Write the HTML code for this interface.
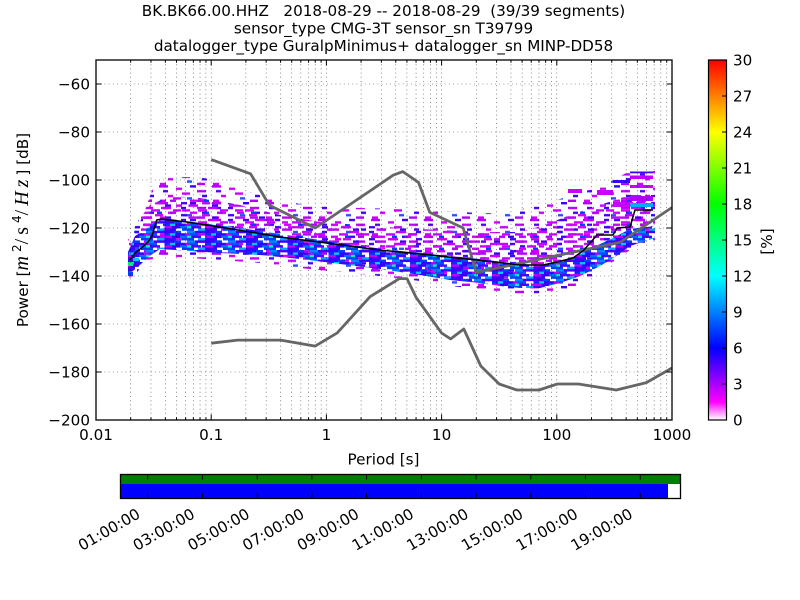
<!DOCTYPE html>
<html><head><meta charset="utf-8"><style>
html,body{margin:0;padding:0;background:#fff;}
svg{display:block;}
text{font-family:"DejaVu Sans","Liberation Sans",sans-serif;fill:#000;}
</style></head><body>
<svg width="800" height="600" viewBox="0 0 800 600" xmlns="http://www.w3.org/2000/svg">
<defs>
<clipPath id="plot"><rect x="96" y="60" width="576" height="360"/></clipPath>
<pattern id="ps" patternUnits="userSpaceOnUse" x="0" y="0.4" width="53" height="16.8">
<rect x="0" y="0" width="9" height="2.4" fill="#b400ff"/><rect x="31" y="0" width="6" height="2.4" fill="#3c00ff"/>
<rect x="17" y="2.4" width="6" height="2.4" fill="#cc00ff"/>
<rect x="4" y="4.8" width="5" height="2.4" fill="#5000ff"/><rect x="38" y="4.8" width="9" height="2.4" fill="#c000ff"/>
<rect x="23" y="7.2" width="8" height="2.4" fill="#cc00ff"/>
<rect x="9" y="9.6" width="5" height="2.4" fill="#c800ff"/><rect x="43" y="9.6" width="5" height="2.4" fill="#3c00ff"/>
<rect x="28" y="12" width="5" height="2.4" fill="#2850ff"/>
<rect x="1" y="14.4" width="6" height="2.4" fill="#cc00ff"/><rect x="38" y="14.4" width="8" height="2.4" fill="#b400ff"/>
</pattern>
<pattern id="pm" patternUnits="userSpaceOnUse" x="0" y="0.4" width="47" height="12">
<rect x="0" y="0" width="10" height="2.4" fill="#c000ff"/><rect x="24" y="0" width="6" height="2.4" fill="#3c00ff"/>
<rect x="20" y="2.4" width="10" height="2.4" fill="#cc00ff"/><rect x="40" y="2.4" width="5" height="2.4" fill="#4000ff"/>
<rect x="10" y="4.8" width="9" height="2.4" fill="#c800ff"/><rect x="32" y="4.8" width="8" height="2.4" fill="#c000ff"/>
<rect x="2" y="7.2" width="7" height="2.4" fill="#cc00ff"/><rect x="16" y="7.2" width="5" height="2.4" fill="#0040ff"/><rect x="29" y="7.2" width="6" height="2.4" fill="#b400ff"/>
<rect x="14" y="9.6" width="8" height="2.4" fill="#c800ff"/><rect x="40" y="9.6" width="6" height="2.4" fill="#4000ff"/>
</pattern>
<pattern id="pc" patternUnits="userSpaceOnUse" x="0" y="0.4" width="41" height="9.6">
<rect x="0" y="0" width="10" height="2.4" fill="#3c00ff"/><rect x="10" y="0" width="7" height="2.4" fill="#0040ff"/><rect x="23" y="0" width="8" height="2.4" fill="#0088ff"/><rect x="31" y="0" width="10" height="2.4" fill="#4600ff"/>
<rect x="0" y="2.4" width="6" height="2.4" fill="#0030ff"/><rect x="6" y="2.4" width="5" height="2.4" fill="#00c8ff"/><rect x="11" y="2.4" width="10" height="2.4" fill="#3c00ff"/><rect x="21" y="2.4" width="5" height="2.4" fill="#b400ff"/><rect x="26" y="2.4" width="8" height="2.4" fill="#0050ff"/>
<rect x="0" y="4.8" width="8" height="2.4" fill="#c000ff"/><rect x="8" y="4.8" width="8" height="2.4" fill="#3200ff"/><rect x="16" y="4.8" width="7" height="2.4" fill="#0070ff"/><rect x="23" y="4.8" width="4" height="2.4" fill="#00f0c0"/><rect x="27" y="4.8" width="10" height="2.4" fill="#5000ff"/>
<rect x="0" y="7.2" width="12" height="2.4" fill="#4000ff"/><rect x="18" y="7.2" width="12" height="2.4" fill="#0040ff"/><rect x="34" y="7.2" width="7" height="2.4" fill="#00a8ff"/>
</pattern>
<linearGradient id="cb" x1="0" y1="1" x2="0" y2="0">
<stop offset="0" stop-color="#ffffff"/><stop offset="0.05" stop-color="#ff00ff"/><stop offset="0.2" stop-color="#0000ff"/><stop offset="0.4" stop-color="#00ffff"/><stop offset="0.6" stop-color="#00ff00"/><stop offset="0.8" stop-color="#ffff00"/><stop offset="1" stop-color="#ff0000"/>
</linearGradient>
</defs>
<rect width="800" height="600" fill="#fff"/>

<!-- Title -->
<text x="383.5" y="16" text-anchor="middle" font-size="15.2" style="white-space:pre">BK.BK66.00.HHZ   2018-08-29 -- 2018-08-29  (39/39 segments)</text>
<text x="383.5" y="33.5" text-anchor="middle" font-size="15.2">sensor_type CMG-3T sensor_sn T39799</text>
<text x="383.5" y="51" text-anchor="middle" font-size="15.2">datalogger_type GuralpMinimus+ datalogger_sn MINP-DD58</text>

<!-- Heatmap -->
<g clip-path="url(#plot)">
<polygon fill="url(#ps)" points="128,240 133,232 140,222 147,205 152,190 156,180 160,177 200,177 215,181 230,186 250,192 270,198 300,204 330,207 360,208 400,209 440,211 480,213 510,213 525,208 545,203 560,199 575,194 596,188 613,180 630,171 655,171 655,240 630,250 613,262 600,272 590,280 575,286 560,291 540,294 520,294 500,292 480,289 450,286 420,281 380,276 340,272 300,268 260,263 220,260 190,258 160,256 150,260 140,268 135,276 128,278"/>
<polygon fill="url(#pm)" points="135,225 150,205 170,196 200,198 240,205 280,215 320,222 360,225 400,228 440,230 480,232 520,232 545,225 570,215 600,205 630,195 655,195 655,226 630,229 615,237 600,244 580,254 560,261 540,265 510,263 480,259 440,255 400,251 360,246 320,240 280,234 240,228 200,223 170,219 155,222 145,230 135,236"/>
<polygon fill="url(#pc)" points="128,252 135,236 145,230 155,222 170,219 200,223 240,228 280,234 320,240 360,246 400,251 440,255 480,259 510,263 540,265 560,261 580,254 600,244 615,237 630,229 655,226 655,238 630,246 615,257 600,266 580,276 560,283 540,288 520,288 500,286 480,283 450,280 420,275 380,269 340,264 300,259 260,255 220,253 190,251 160,249 148,257 140,265 133,271 128,274"/>
<rect x="630" y="171.5" width="23" height="1.8" fill="#3c00ff"/>
<rect x="630" y="175.5" width="23" height="3.5" fill="#c000ff"/>
<rect x="613" y="180" width="17" height="3" fill="#4000ff"/>
<rect x="630" y="185" width="23" height="3" fill="#c800ff"/>
<rect x="597" y="190" width="16" height="5" fill="#cc00ff"/>
<rect x="568" y="189" width="14" height="4" fill="#cc00ff"/>
<rect x="630" y="196" width="23" height="5" fill="#b400ff"/>
<rect x="630" y="203" width="23" height="4" fill="#00a8ff"/>
<rect x="613" y="202" width="17" height="5" fill="#cc00ff"/>
<rect x="128" y="262" width="5" height="4" fill="#00e890"/>
<rect x="133" y="258" width="6" height="3" fill="#00c8ff"/>
<rect x="128" y="272" width="5" height="4" fill="#0040ff"/>
</g>

<!-- Grid -->
<g stroke="#000" stroke-width="0.6" stroke-dasharray="1,3.2" fill="none" opacity="0.75">
<path d="M96,84H672M96,132H672M96,180H672M96,228H672M96,276H672M96,324H672M96,372H672"/>
<path d="M130.68,60V420M150.96,60V420M165.36,60V420M176.52,60V420M185.64,60V420M193.36,60V420M200.04,60V420M205.93,60V420M211.2,60V420M245.88,60V420M266.16,60V420M280.56,60V420M291.72,60V420M300.84,60V420M308.56,60V420M315.24,60V420M321.13,60V420M326.4,60V420M361.08,60V420M381.36,60V420M395.76,60V420M406.92,60V420M416.04,60V420M423.76,60V420M430.44,60V420M436.33,60V420M441.6,60V420M476.28,60V420M496.56,60V420M510.96,60V420M522.12,60V420M531.24,60V420M538.96,60V420M545.64,60V420M551.53,60V420M556.8,60V420M591.48,60V420M611.76,60V420M626.16,60V420M637.32,60V420M646.44,60V420M654.16,60V420M660.84,60V420M666.73,60V420"/>
</g>

<!-- Noise models -->
<g clip-path="url(#plot)" fill="none" stroke-linejoin="round">
<polyline stroke="#666" stroke-width="2.8" points="211.2,159.6 250.6,173.8 269.4,205.2 315.2,228 393.2,175.2 402.8,171.6 418.5,182.4 429.8,212.4 463.2,228 476.2,272.4 620,242.4 672,207.5"/>
<polyline stroke="#666" stroke-width="2.8" points="211.2,343.2 237.7,340.1 280.6,340.1 315.2,346.1 337.2,332.9 370.2,296.6 399.4,278.6 407,278.6 416.2,297.6 441.6,333.1 450.7,338.9 463.8,329 480.8,366 499.2,384 516.9,390 539,390 557.3,384 578.4,384 616.2,390 646.4,382.6 672,368"/>
<polyline stroke="#000" stroke-width="1.5" points="130,260 135,253 143,246.7 148.3,241.7 152,236 156.7,220 161.7,219 187,222 220,227 280,237 330,243.5 380,250 430,255 476.7,260 520,265 543,265 557,262 573,258 580,253 584,250 597,235 613,235 617,228 630,227 635,210 653,210"/>
</g>

<!-- Ticks -->
<g stroke="#000" stroke-width="1" fill="none">
<path d="M96,84h5.6M96,132h5.6M96,180h5.6M96,228h5.6M96,276h5.6M96,324h5.6M96,372h5.6M672,84h-5.6M672,132h-5.6M672,180h-5.6M672,228h-5.6M672,276h-5.6M672,324h-5.6M672,372h-5.6"/>
<path d="M211.2,420v-5.6M326.4,420v-5.6M441.6,420v-5.6M556.8,420v-5.6M211.2,60v5.6M326.4,60v5.6M441.6,60v5.6M556.8,60v5.6"/>
<path d="M130.68,420v-2.8M150.96,420v-2.8M165.36,420v-2.8M176.52,420v-2.8M185.64,420v-2.8M193.36,420v-2.8M200.04,420v-2.8M205.93,420v-2.8M245.88,420v-2.8M266.16,420v-2.8M280.56,420v-2.8M291.72,420v-2.8M300.84,420v-2.8M308.56,420v-2.8M315.24,420v-2.8M321.13,420v-2.8M361.08,420v-2.8M381.36,420v-2.8M395.76,420v-2.8M406.92,420v-2.8M416.04,420v-2.8M423.76,420v-2.8M430.44,420v-2.8M436.33,420v-2.8M476.28,420v-2.8M496.56,420v-2.8M510.96,420v-2.8M522.12,420v-2.8M531.24,420v-2.8M538.96,420v-2.8M545.64,420v-2.8M551.53,420v-2.8M591.48,420v-2.8M611.76,420v-2.8M626.16,420v-2.8M637.32,420v-2.8M646.44,420v-2.8M654.16,420v-2.8M660.84,420v-2.8M666.73,420v-2.8"/>
<path d="M130.68,60v2.8M150.96,60v2.8M165.36,60v2.8M176.52,60v2.8M185.64,60v2.8M193.36,60v2.8M200.04,60v2.8M205.93,60v2.8M245.88,60v2.8M266.16,60v2.8M280.56,60v2.8M291.72,60v2.8M300.84,60v2.8M308.56,60v2.8M315.24,60v2.8M321.13,60v2.8M361.08,60v2.8M381.36,60v2.8M395.76,60v2.8M406.92,60v2.8M416.04,60v2.8M423.76,60v2.8M430.44,60v2.8M436.33,60v2.8M476.28,60v2.8M496.56,60v2.8M510.96,60v2.8M522.12,60v2.8M531.24,60v2.8M538.96,60v2.8M545.64,60v2.8M551.53,60v2.8M591.48,60v2.8M611.76,60v2.8M626.16,60v2.8M637.32,60v2.8M646.44,60v2.8M654.16,60v2.8M660.84,60v2.8M666.73,60v2.8"/>
</g>
<rect x="96" y="60" width="576" height="360" fill="none" stroke="#000" stroke-width="1.3"/>

<!-- Y tick labels -->
<g font-size="15.2" text-anchor="end">
<text x="90" y="89.3">−60</text>
<text x="90" y="137.3">−80</text>
<text x="90" y="185.3">−100</text>
<text x="90" y="233.3">−120</text>
<text x="90" y="281.3">−140</text>
<text x="90" y="329.3">−160</text>
<text x="90" y="377.3">−180</text>
<text x="90" y="425.3">−200</text>
</g>
<!-- X tick labels -->
<g font-size="15.2" text-anchor="middle">
<text x="96" y="440">0.01</text>
<text x="211.2" y="440">0.1</text>
<text x="326.4" y="440">1</text>
<text x="441.6" y="440">10</text>
<text x="556.8" y="440">100</text>
<text x="672" y="440">1000</text>
</g>
<text x="383.5" y="464.5" font-size="15.2" text-anchor="middle">Period [s]</text>
<text transform="translate(28,230) rotate(-90)" font-size="15.2" text-anchor="middle">Power [<tspan font-family="Liberation Serif,DejaVu Serif,serif" font-style="italic" font-size="20" letter-spacing="4">m</tspan><tspan font-size="12" dy="-7">2</tspan><tspan dy="7" font-family="Liberation Serif,DejaVu Serif,serif" font-size="20" letter-spacing="4">/</tspan><tspan font-family="Liberation Serif,DejaVu Serif,serif" font-size="20" letter-spacing="4">s</tspan><tspan font-size="12" dy="-7">4</tspan><tspan dy="7" font-family="Liberation Serif,DejaVu Serif,serif" font-size="20" letter-spacing="4">/</tspan><tspan font-family="Liberation Serif,DejaVu Serif,serif" font-style="italic" font-size="20" letter-spacing="4">Hz</tspan>] [dB]</text>

<!-- Colorbar -->
<rect x="708.5" y="60" width="18" height="360" fill="url(#cb)" stroke="#000" stroke-width="1.2"/>
<g stroke="#000" stroke-width="1">
<path d="M726.5,384h-4.5M726.5,348h-4.5M726.5,312h-4.5M726.5,276h-4.5M726.5,240h-4.5M726.5,204h-4.5M726.5,168h-4.5M726.5,132h-4.5M726.5,96h-4.5"/>
</g>
<g font-size="15.2">
<text x="733" y="425.3">0</text>
<text x="733" y="389.3">3</text>
<text x="733" y="353.3">6</text>
<text x="733" y="317.3">9</text>
<text x="733" y="281.3">12</text>
<text x="733" y="245.3">15</text>
<text x="733" y="209.3">18</text>
<text x="733" y="173.3">21</text>
<text x="733" y="137.3">24</text>
<text x="733" y="101.3">27</text>
<text x="733" y="65.3">30</text>
</g>
<text transform="translate(772,241.5) rotate(-90)" font-size="15.2" text-anchor="middle">[%]</text>

<!-- Timeline bar -->
<rect x="120.5" y="474.5" width="560" height="9.5" fill="#008000"/>
<rect x="120.5" y="484" width="547.5" height="14.5" fill="#0000ff"/>
<rect x="668" y="484" width="12.5" height="14.5" fill="#ffffff"/>
<rect x="120.5" y="474.5" width="560" height="24" fill="none" stroke="#000" stroke-width="1.3"/>
<g stroke="#000" stroke-width="1">
<path d="M147.7,474.5v5M202.4,474.5v5M257.2,474.5v5M311.9,474.5v5M366.6,474.5v5M421.4,474.5v5M476.1,474.5v5M530.8,474.5v5M585.5,474.5v5M640.3,474.5v5M147.7,498.5v-5.5M202.4,498.5v-5.5M257.2,498.5v-5.5M311.9,498.5v-5.5M366.6,498.5v-5.5M421.4,498.5v-5.5M476.1,498.5v-5.5M530.8,498.5v-5.5M585.5,498.5v-5.5M640.3,498.5v-5.5"/>
</g>
<g font-size="15.2" text-anchor="end">
<text transform="translate(141.2,517) rotate(-30)">01:00:00</text>
<text transform="translate(195.9,517) rotate(-30)">03:00:00</text>
<text transform="translate(250.7,517) rotate(-30)">05:00:00</text>
<text transform="translate(305.4,517) rotate(-30)">07:00:00</text>
<text transform="translate(360.1,517) rotate(-30)">09:00:00</text>
<text transform="translate(414.9,517) rotate(-30)">11:00:00</text>
<text transform="translate(469.6,517) rotate(-30)">13:00:00</text>
<text transform="translate(524.3,517) rotate(-30)">15:00:00</text>
<text transform="translate(579,517) rotate(-30)">17:00:00</text>
<text transform="translate(633.8,517) rotate(-30)">19:00:00</text>
</g>
</svg>
</body></html>
